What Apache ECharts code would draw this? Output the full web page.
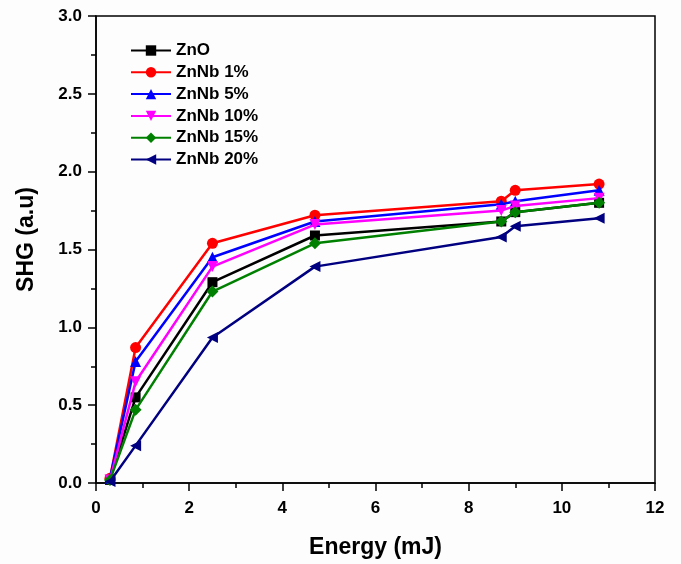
<!DOCTYPE html>
<html>
<head>
<meta charset="utf-8">
<script src="https://cdn.jsdelivr.net/npm/echarts@6/dist/echarts.min.js"></script>
<style>html,body{margin:0;padding:0;background:#fdfdfd;}#c{width:681px;height:564px;}</style>
</head>
<body>
<div id="c"></div>
<script>
var energy = [0.3, 0.85, 2.5, 4.7, 8.7, 9.0, 10.8];
var seriesNames = ['ZnO', 'ZnNb 1%', 'ZnNb 5%', 'ZnNb 10%', 'ZnNb 15%', 'ZnNb 20%'];
var znO    = [0.02, 0.55, 1.29, 1.59, 1.68, 1.74, 1.80];
var znNb1  = [0.03, 0.87, 1.54, 1.72, 1.81, 1.88, 1.92];
var znNb5  = [0.03, 0.78, 1.45, 1.68, 1.79, 1.81, 1.88];
var znNb10 = [0.02, 0.65, 1.39, 1.66, 1.75, 1.78, 1.83];
var znNb15 = [0.02, 0.47, 1.23, 1.54, 1.68, 1.74, 1.80];
var znNb20 = [0.01, 0.24, 0.935, 1.39, 1.58, 1.65, 1.70];
var xTicks = [0, 2, 4, 6, 8, 10, 12];
var yTicks = [0.0, 0.5, 1.0, 1.5, 2.0, 2.5, 3.0];

var values = [znO, znNb1, znNb5, znNb10, znNb15, znNb20];
var colors = ['#000000', '#ff0000', '#0000ff', '#ff00ff', '#008000', '#000080'];
var symbols = ['rect', 'circle', 'triangle', 'triangle', 'diamond', 'triangle'];
var rotates = [0, 0, 0, 180, 0, 90];
var sizes = [10, 11, 11, 11, 12, 11];

var chart = echarts.init(document.getElementById('c'));
var font = 'Liberation Sans, Arial, sans-serif';
var series = seriesNames.map(function (n, i) {
  return {
    name: n, type: 'line',
    data: energy.map(function (x, j) { return [x, values[i][j]]; }),
    symbol: symbols[i], symbolRotate: rotates[i], symbolSize: sizes[i],
    showAllSymbol: true,
    lineStyle: { color: colors[i], width: 2.5 },
    itemStyle: { color: colors[i] },
    z: 2 + i
  };
});
chart.setOption({
  backgroundColor: '#fdfdfd',
  animation: false,
  grid: { left: 96, right: 26, top: 16, bottom: 81, show: true, borderColor: '#000', borderWidth: 1.5, backgroundColor: 'transparent' },
  legend: {
    orient: 'vertical', left: 125, top: 37, itemWidth: 40, itemHeight: 13, itemGap: 4.8,
    data: seriesNames,
    textStyle: { fontFamily: font, fontWeight: 'bold', fontSize: 17, color: '#000' }
  },
  xAxis: {
    type: 'value', min: 0, max: 12, interval: 2,
    name: 'Energy (mJ)', nameLocation: 'middle', nameGap: 53,
    nameTextStyle: { fontFamily: font, fontWeight: 'bold', fontSize: 23, color: '#000' },
    axisLine: { lineStyle: { color: '#000', width: 1.5 } },
    axisTick: { show: true, length: 8, lineStyle: { color: '#000', width: 1.5 } },
    minorTick: { show: true, splitNumber: 2, length: 5, lineStyle: { color: '#000', width: 1.5 } },
    splitLine: { show: false },
    axisLabel: { fontFamily: font, fontWeight: 'bold', fontSize: 17, color: '#000', margin: 17,
      formatter: function (v) { return xTicks.indexOf(v) >= 0 ? String(v) : ''; } }
  },
  yAxis: {
    type: 'value', min: 0, max: 3, interval: 0.5,
    name: 'SHG (a.u)', nameLocation: 'middle', nameGap: 58,
    nameTextStyle: { fontFamily: font, fontWeight: 'bold', fontSize: 23, color: '#000', padding: [0, 0, 0, 20] },
    axisLine: { show: true, lineStyle: { color: '#000', width: 1.5 } },
    axisTick: { show: true, length: 8, lineStyle: { color: '#000', width: 1.5 } },
    minorTick: { show: true, splitNumber: 2, length: 5, lineStyle: { color: '#000', width: 1.5 } },
    splitLine: { show: false },
    axisLabel: { fontFamily: font, fontWeight: 'bold', fontSize: 17, color: '#000', margin: 14,
      formatter: function (v) { var t = yTicks.filter(function (y) { return Math.abs(y - v) < 1e-9; }); return t.length ? v.toFixed(1) : ''; } }
  },
  series: series
});
</script>
</body>
</html>
